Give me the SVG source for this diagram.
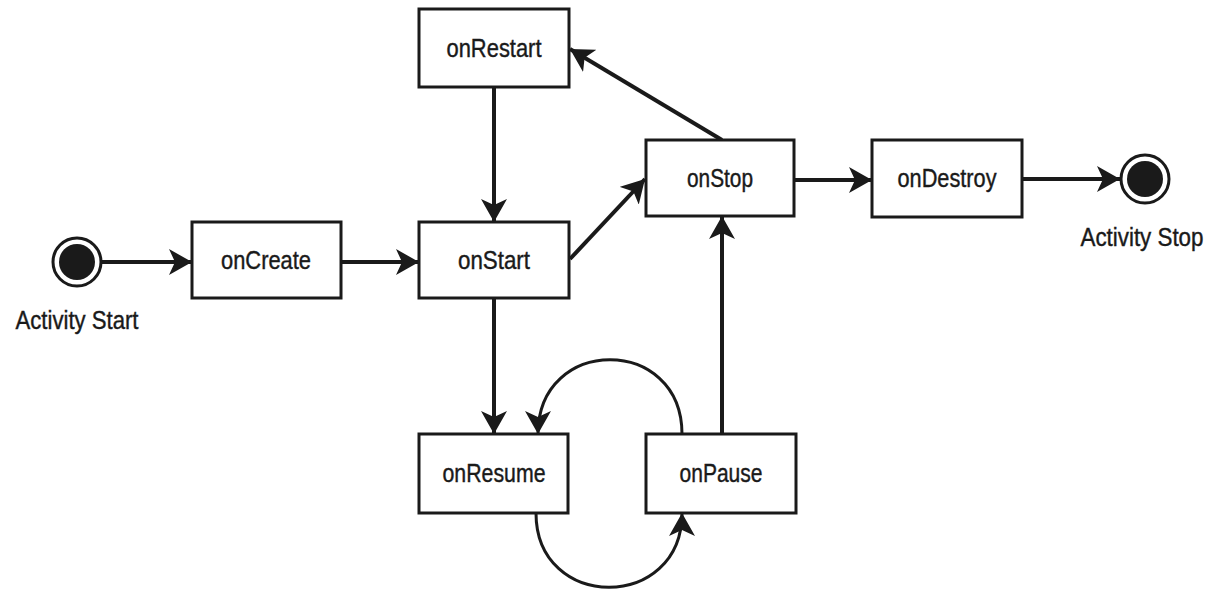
<svg xmlns="http://www.w3.org/2000/svg" width="1222" height="590" viewBox="0 0 1222 590">
<style>
.box{fill:#fff;stroke:#1a1a1a;stroke-width:3}
.lbl{font-family:"Liberation Sans",Arial,sans-serif;font-size:25px;fill:#1a1a1a;stroke:#1a1a1a;stroke-width:0.4;text-anchor:middle}
.c{fill:none;stroke:#1a1a1a;stroke-width:4}
.cv{fill:none;stroke:#1a1a1a;stroke-width:3}
</style>
<defs>
<marker id="ah" markerUnits="userSpaceOnUse" markerWidth="24" markerHeight="26" refX="23" refY="13" orient="auto">
<path d="M0,0 L23,13 L0,26 L6,13 z" fill="#1a1a1a"/>
</marker>
</defs>
<rect width="1222" height="590" fill="#fff"/>
<g id="connectors">
<line class="c" x1="102" y1="262" x2="192" y2="262" marker-end="url(#ah)"/>
<line class="c" x1="341" y1="262" x2="419" y2="262" marker-end="url(#ah)"/>
<line class="c" x1="494" y1="87" x2="494" y2="222" marker-end="url(#ah)"/>
<line class="c" x1="570" y1="259" x2="645" y2="179" marker-end="url(#ah)"/>
<line class="c" x1="722" y1="140" x2="570" y2="49" marker-end="url(#ah)"/>
<line class="c" x1="794" y1="180" x2="872" y2="180" marker-end="url(#ah)"/>
<line class="c" x1="1022" y1="179" x2="1120" y2="179" marker-end="url(#ah)"/>
<line class="c" x1="494" y1="298" x2="494" y2="434" marker-end="url(#ah)"/>
<line class="c" x1="722" y1="434" x2="722" y2="216" marker-end="url(#ah)"/>
<path class="cv" d="M682,434 C682,335 538,335 538,434" marker-end="url(#ah)"/>
<path class="cv" d="M536,513 C536,612 682,612 682,513" marker-end="url(#ah)"/>
</g>
<g id="activity-start">
<circle cx="77" cy="262" r="24" fill="#fff" stroke="#1a1a1a" stroke-width="3"/>
<circle cx="77" cy="262" r="18" fill="#1a1a1a"/>
<text class="lbl" x="77" y="329" textLength="123" lengthAdjust="spacingAndGlyphs">Activity Start</text>
</g>
<g id="onCreate">
<rect class="box" x="192" y="222" width="149" height="76"/>
<text class="lbl" x="266" y="269" textLength="90" lengthAdjust="spacingAndGlyphs">onCreate</text>
</g>
<g id="onStart">
<rect class="box" x="419" y="222" width="150" height="76"/>
<text class="lbl" x="494" y="269" textLength="72" lengthAdjust="spacingAndGlyphs">onStart</text>
</g>
<g id="onRestart">
<rect class="box" x="419" y="9" width="150" height="78"/>
<text class="lbl" x="494" y="57" textLength="95" lengthAdjust="spacingAndGlyphs">onRestart</text>
</g>
<g id="onStop">
<rect class="box" x="646" y="140" width="148" height="76"/>
<text class="lbl" x="720" y="187" textLength="66" lengthAdjust="spacingAndGlyphs">onStop</text>
</g>
<g id="onDestroy">
<rect class="box" x="872" y="140" width="150" height="77"/>
<text class="lbl" x="947" y="187" textLength="99" lengthAdjust="spacingAndGlyphs">onDestroy</text>
</g>
<g id="activity-stop">
<circle cx="1145" cy="179" r="24" fill="#fff" stroke="#1a1a1a" stroke-width="3"/>
<circle cx="1145" cy="179" r="18" fill="#1a1a1a"/>
<text class="lbl" x="1142" y="246" textLength="123" lengthAdjust="spacingAndGlyphs">Activity Stop</text>
</g>
<g id="onResume">
<rect class="box" x="419" y="434" width="149" height="79"/>
<text class="lbl" x="494" y="482" textLength="103" lengthAdjust="spacingAndGlyphs">onResume</text>
</g>
<g id="onPause">
<rect class="box" x="646" y="434" width="150" height="79"/>
<text class="lbl" x="721" y="482" textLength="83" lengthAdjust="spacingAndGlyphs">onPause</text>
</g>
</svg>
